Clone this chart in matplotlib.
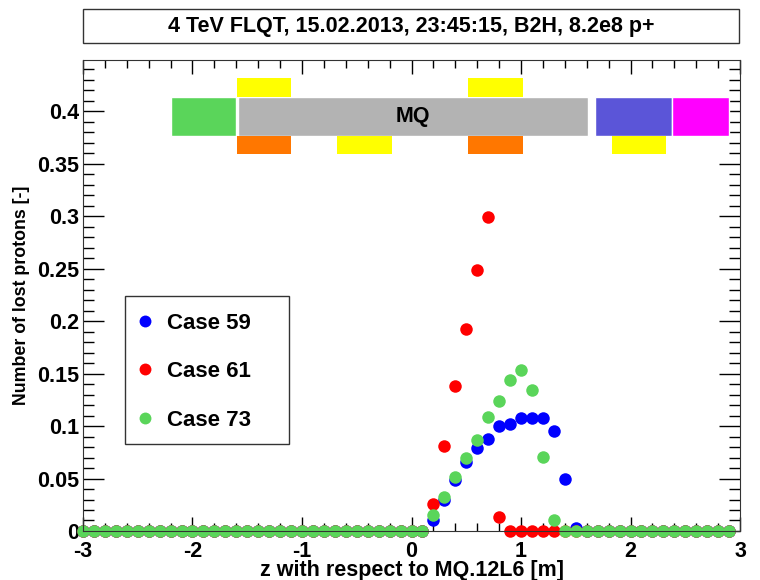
import numpy as np
import matplotlib.pyplot as plt
from matplotlib.patches import Rectangle
from matplotlib.ticker import MultipleLocator

plt.rcParams['font.family'] = ['Liberation Sans', 'DejaVu Sans']
plt.rcParams['font.weight'] = 'bold'
plt.rcParams['axes.unicode_minus'] = False

# z positions of the loss samples [m]
z = np.round(np.arange(-3.0, 2.95, 0.1), 1)

# non-zero losses per case, keyed by z
case59_peak = {0.2: 0.010, 0.3: 0.030, 0.4: 0.049, 0.5: 0.066, 0.6: 0.079,
               0.7: 0.088, 0.8: 0.100, 0.9: 0.102, 1.0: 0.108, 1.1: 0.108,
               1.2: 0.108, 1.3: 0.095, 1.4: 0.050, 1.5: 0.003}
case61_peak = {0.2: 0.026, 0.3: 0.081, 0.4: 0.138, 0.5: 0.193, 0.6: 0.249,
               0.7: 0.299, 0.8: 0.013}
case73_peak = {0.2: 0.015, 0.3: 0.032, 0.4: 0.051, 0.5: 0.070, 0.6: 0.087,
               0.7: 0.109, 0.8: 0.124, 0.9: 0.144, 1.0: 0.153, 1.1: 0.134,
               1.2: 0.071, 1.3: 0.010}

case59 = [case59_peak.get(v, 0.0) for v in z]
case61 = [case61_peak.get(v, 0.0) for v in z]
case73 = [case73_peak.get(v, 0.0) for v in z]

# element layout drawn above the data: (z_start, z_end, colour, label)
main_row = [(-2.20, -1.60, '#5ad55a', ''),
            (-1.58, 1.61, '#b3b3b3', 'MQ'),
            (1.68, 2.38, '#5b55d8', ''),
            (2.38, 2.90, '#ff00ff', '')]
upper_row = [(-1.59, -1.10, '#ffff00'), (0.52, 1.02, '#ffff00')]
lower_row = [(-1.59, -1.10, '#ff7700'), (-0.68, -0.18, '#ffff00'),
             (0.52, 1.02, '#ff7700'), (1.83, 2.32, '#ffff00')]

fig = plt.figure(figsize=(7.6, 5.8), dpi=100)
ax = fig.add_axes([0.1092, 0.0845, 0.8645, 0.8121])

ax.plot(z, case59, 'o', color='#0000ff', ms=9, mew=0, label='Case 59', clip_on=False)
ax.plot(z, case61, 'o', color='#ff0000', ms=9, mew=0, label='Case 61', clip_on=False)
ax.plot(z, case73, 'o', color='#5ad55a', ms=9, mew=0, label='Case 73', clip_on=False)

for z0, z1, col, lab in main_row:
    ax.add_patch(Rectangle((z0, 0.377), z1 - z0, 0.037, facecolor=col,
                           edgecolor='white', lw=1, zorder=3))
    if lab:
        ax.text((z0 + z1) / 2, 0.3955, lab, ha='center', va='center',
                fontsize=15.5, fontweight='bold', zorder=4)
for z0, z1, col in upper_row:
    ax.add_patch(Rectangle((z0, 0.414), z1 - z0, 0.018, facecolor=col,
                           edgecolor='none', zorder=3))
for z0, z1, col in lower_row:
    ax.add_patch(Rectangle((z0, 0.359), z1 - z0, 0.018, facecolor=col,
                           edgecolor='none', zorder=3))

ax.set_xlim(-3, 3)
ax.set_ylim(0, 0.449)
ax.xaxis.set_major_locator(MultipleLocator(1))
ax.xaxis.set_minor_locator(MultipleLocator(0.2))
ax.yaxis.set_minor_locator(MultipleLocator(0.01))
ax.set_yticks(np.arange(0, 0.45, 0.05))
ax.set_yticklabels(['0', '0.05', '0.1', '0.15', '0.2', '0.25', '0.3', '0.35', '0.4'])
ax.tick_params(axis='both', which='both', direction='in', top=True, right=True,
               labelsize=15.5, width=1)
ax.tick_params(axis='x', which='major', length=10, pad=7)
ax.tick_params(axis='x', which='minor', length=5.5)
ax.tick_params(axis='y', which='major', length=15, pad=3)
ax.tick_params(axis='y', which='minor', length=8)
for s in ax.spines.values():
    s.set_color('#333333')

ax.set_xlabel('z with respect to MQ.12L6 [m]', fontsize=15.5, fontweight='bold', labelpad=-1)
ax.set_ylabel('Number of lost protons [-]', fontsize=12.8, fontweight='bold', labelpad=5)

# legend box
ax.add_patch(Rectangle((0.0639, 0.185), 0.2496, 0.314, transform=ax.transAxes,
                       facecolor='white', edgecolor='#333333', lw=1, zorder=5))
ax.legend(loc='upper left', bbox_to_anchor=(0.0842, 0.463), frameon=False,
          prop={'size': 16, 'weight': 'bold'}, handlelength=0.6,
          handletextpad=0.7, labelspacing=1.23, borderpad=0, borderaxespad=0,
          markerscale=0.95).set_zorder(6)

# title box
fig.patches.append(Rectangle((0.1096, 0.9264), 0.863, 0.0576, transform=fig.transFigure,
                             facecolor='white', edgecolor='#333333', lw=1))
fig.text(0.541, 0.955, '4 TeV FLQT, 15.02.2013, 23:45:15, B2H, 8.2e8 p+',
         ha='center', va='center', fontsize=15.5, fontweight='bold')

fig.savefig('out.png', dpi=100)
